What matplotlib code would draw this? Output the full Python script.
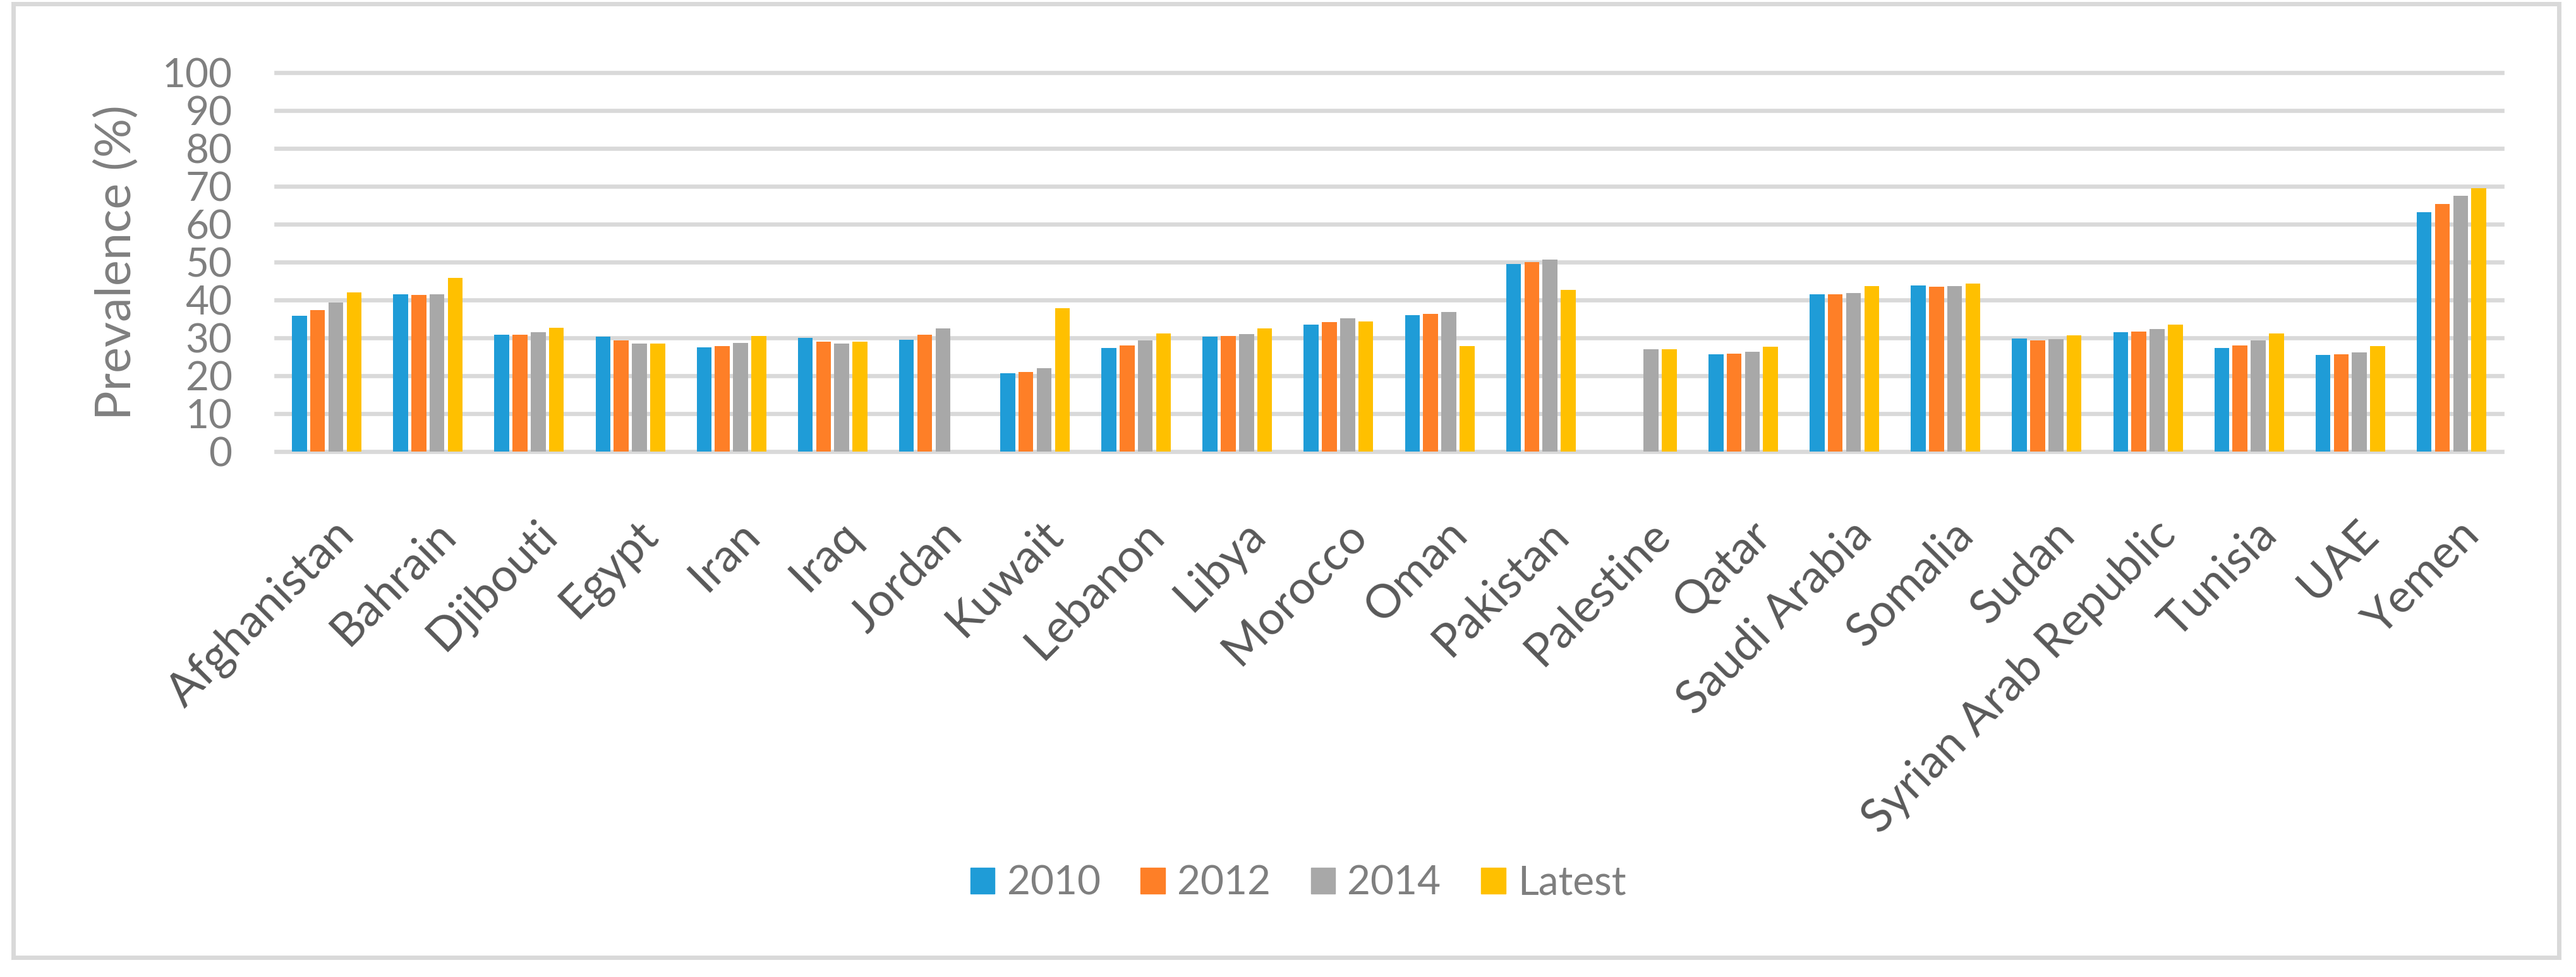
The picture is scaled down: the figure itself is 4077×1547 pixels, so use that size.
import numpy as np
import matplotlib
matplotlib.use('Agg')
import matplotlib.pyplot as plt
import matplotlib.transforms as mtrans
from matplotlib.patches import Rectangle, Patch
from matplotlib.textpath import TextPath
from matplotlib.font_manager import FontProperties

plt.rcParams['font.family'] = ['Lato', 'DejaVu Sans']

# 國家與各年度盛行率
countries = ['Afghanistan', 'Bahrain', 'Djibouti', 'Egypt', 'Iran', 'Iraq', 'Jordan', 'Kuwait',
             'Lebanon', 'Libya', 'Morocco', 'Oman', 'Pakistan', 'Palestine', 'Qatar', 'Saudi Arabia',
             'Somalia', 'Sudan', 'Syrian Arab Republic', 'Tunisia', 'UAE', 'Yemen']
nan = np.nan
y2010 = [35.8, 41.5, 30.8, 30.3, 27.5, 30.0, 29.5, 20.6, 27.3, 30.3, 33.5, 36.0, 49.5, nan, 25.7, 41.5,
         43.9, 29.9, 31.5, 27.3, 25.5, 63.2]
y2012 = [37.3, 41.3, 30.8, 29.3, 27.8, 29.0, 30.8, 21.0, 28.0, 30.5, 34.2, 36.3, 50.0, nan, 25.8, 41.5,
         43.5, 29.3, 31.6, 28.0, 25.7, 65.4]
y2014 = [39.3, 41.5, 31.5, 28.5, 28.7, 28.5, 32.5, 22.0, 29.3, 31.0, 35.1, 36.9, 50.7, 27.0, 26.4, 41.8,
         43.6, 29.6, 32.3, 29.3, 26.1, 67.5]
latest = [42.0, 45.9, 32.7, 28.5, 30.5, 29.0, nan, 37.8, 31.1, 32.5, 34.3, 27.8, 42.7, 27.0, 27.6, 43.6,
          44.3, 30.7, 33.5, 31.1, 27.8, 69.5]

series = [('2010', y2010, '#1f9cd7'), ('2012', y2012, '#fe7f27'),
          ('2014', y2014, '#a8a8a8'), ('Latest', latest, '#ffc000')]

DPI = 100
fig = plt.figure(figsize=(40.77, 15.47), dpi=DPI)
ax = fig.add_axes([0.1072, 0.5379, 0.9713 - 0.1072, 0.9255 - 0.5379])


# 依照目標像素長度換算字級
def fit_size(s, target_px):
    w = TextPath((0, 0), s, size=100, prop=FontProperties(family='Lato')).get_extents().width
    return 100 * target_px / w * 72 / DPI


x = np.arange(len(countries)) + 0.5
step = 0.18
width = 0.147
for k, (name, vals, col) in enumerate(series):
    ax.bar(x + (k - 1.5) * step, vals, width=width, color=col, label=name, zorder=2)

ax.set_xlim(0, len(countries))
ax.set_ylim(0, 100)
ax.set_yticks(range(0, 101, 10))
ax.yaxis.grid(True, color='#d9d9d9', linewidth=4.8, zorder=0)
ax.set_axisbelow(True)
for line in ax.get_ygridlines():
    line.set_clip_on(False)
for s in ax.spines.values():
    s.set_visible(False)

ax.tick_params(axis='y', length=0, pad=50, labelsize=46, labelcolor='#7f7f7f')
ax.set_xticks(x)
ax.set_xticklabels(countries, rotation=45, ha='right', rotation_mode='anchor',
                   fontsize=fit_size('Afghanistan', 380), color='#595959')
ax.tick_params(axis='x', length=0, pad=70)
offset = mtrans.ScaledTranslation(9 / DPI, 0, fig.dpi_scale_trans)
for lab in ax.get_xticklabels():
    lab.set_transform(lab.get_transform() + offset)

fig.text(185 / 4077, 1 - 416 / 1547, 'Prevalence (%)', rotation=90, va='center', ha='center',
         fontsize=fit_size('Prevalence (%)', 488), color='#7f7f7f')

handles = [Patch(color=c) for _, _, c in series]
fig.legend(handles, [n for n, _, _ in series], loc='center', bbox_to_anchor=(0.504, 0.0957),
           ncol=4, frameon=False, fontsize=46, handlelength=0.6, handleheight=0.6,
           handletextpad=0.3, columnspacing=1.0, labelcolor='#7f7f7f')

# 外框
fig.patches.append(Rectangle((21 / 4077, 1 - 1516 / 1547), (4050 - 21) / 4077, (1516 - 6) / 1547,
                             transform=fig.transFigure, fill=False, edgecolor='#d9d9d9',
                             linewidth=5))

fig.savefig('out.png', dpi=DPI)
